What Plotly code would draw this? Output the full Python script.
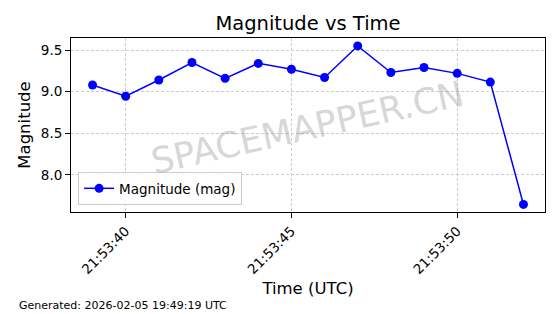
import plotly.graph_objects as go

times = ["2026-02-05 21:53:39", "2026-02-05 21:53:40", "2026-02-05 21:53:41", "2026-02-05 21:53:42",
         "2026-02-05 21:53:43", "2026-02-05 21:53:44", "2026-02-05 21:53:45", "2026-02-05 21:53:46",
         "2026-02-05 21:53:47", "2026-02-05 21:53:48", "2026-02-05 21:53:49", "2026-02-05 21:53:50",
         "2026-02-05 21:53:51", "2026-02-05 21:53:52"]
magnitudes = [9.08, 8.945, 9.14, 9.35, 9.16, 9.34, 9.27, 9.17, 9.55, 9.23, 9.29, 9.22, 9.115, 7.645]
ytick_vals = [8.0, 8.5, 9.0, 9.5]
ytick_text = ["8.0", "8.5", "9.0", "9.5"]

FONT = "DejaVu Sans"

# plot area in pixels
L, R, T, B = 71, 15, 38, 102
PW, PH = 560 - L - R, 314 - T - B

fig = go.Figure()
fig.add_trace(go.Scatter(
    x=times, y=magnitudes, mode="lines+markers", name="Magnitude (mag)",
    line=dict(color="#0000ff", width=1.5),
    marker=dict(color="#0000ff", size=9),
))

fig.update_layout(
    width=560, height=314,
    margin=dict(l=L, r=R, t=T, b=B),
    paper_bgcolor="white", plot_bgcolor="white",
    font=dict(family=FONT, color="black"),
    title=dict(text="Magnitude vs Time", x=0.5, xanchor="center", xref="paper",
               y=1 - 23 / 314, yanchor="middle", font=dict(size=19.5, family=FONT)),
    showlegend=True,
    legend=dict(x=0.015, y=0.04, xanchor="left", yanchor="bottom",
                bgcolor="rgba(255,255,255,0.8)", bordercolor="#cccccc", borderwidth=1,
                font=dict(size=13.5, family=FONT)),
    xaxis=dict(
        type="date", range=["2026-02-05 21:53:38.35", "2026-02-05 21:53:52.65"],
        tickformat="%H:%M:%S", dtick=5000, tick0="2026-02-05 21:53:40",
        tickangle=-45, tickfont=dict(size=13.5, family=FONT),
        ticks="outside", ticklen=5, tickcolor="black",
        showgrid=True, gridcolor="#cccccc", griddash="3px,2px", gridwidth=1,
        showline=True, linecolor="black", linewidth=1, mirror=True,
        zeroline=False,
        title=dict(text="Time (UTC)", font=dict(size=16.5, family=FONT), standoff=6),
    ),
    yaxis=dict(
        range=[7.554, 9.645], tickvals=ytick_vals, ticktext=ytick_text,
        tickfont=dict(size=13.5, family=FONT),
        ticks="outside", ticklen=5, tickcolor="black",
        showgrid=True, gridcolor="#cccccc", griddash="3px,2px", gridwidth=1,
        showline=True, linecolor="black", linewidth=1, mirror=True,
        zeroline=False,
        title=dict(text="Magnitude", font=dict(size=16.5, family=FONT), standoff=6),
    ),
)

fig.add_annotation(text="SPACEMAPPER.CN", xref="paper", yref="paper",
                   x=(307 - L) / PW, y=(T + PH - 127) / PH, showarrow=False, textangle=-12.5,
                   font=dict(size=35.5, family=FONT, color="rgba(150,150,150,0.4)"))

fig.add_annotation(text="Generated: 2026-02-05 19:49:19 UTC", xref="paper", yref="paper",
                   x=(17 - L) / PW, y=(T + PH - 305) / PH, xanchor="left", yanchor="middle",
                   showarrow=False, font=dict(size=11, family=FONT, color="black"))

fig.write_html("out.html")
